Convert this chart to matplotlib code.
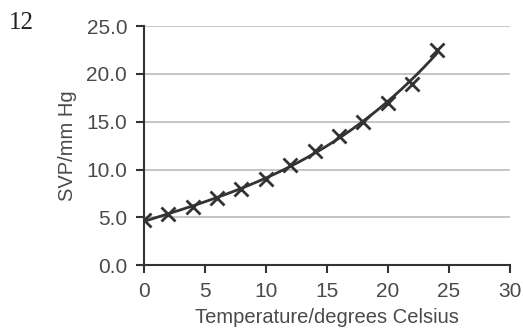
import numpy as np
import matplotlib
matplotlib.use("Agg")
import matplotlib.pyplot as plt

temps = [0, 2, 4, 6, 8, 10, 12, 14, 16, 18, 20, 22, 24]
svp = [4.7, 5.3, 6.1, 7.0, 8.0, 9.0, 10.5, 11.9, 13.5, 15.0, 17.0, 19.0, 22.5]
xticks = [0, 5, 10, 15, 20, 25, 30]
yticks = [0, 5, 10, 15, 20, 25]

plt.rcParams['font.family'] = ['Liberation Sans', 'DejaVu Sans']
ink = '#333333'
txt = '#4a4a4a'

fig = plt.figure(figsize=(5.23, 3.31), dpi=100)
ax = fig.add_axes([0.275, 0.199, 0.700, 0.722])

# smooth trend line through the points
coef = np.polyfit(temps, svp, 3)
xs = np.linspace(temps[0], temps[-1], 200)
ax.plot(xs, np.polyval(coef, xs), color=ink, lw=2, zorder=3)
ax.plot(temps, svp, ls='none', marker='x', ms=10.5, mew=2, color=ink, zorder=4)

ax.set_xlim(0, 30)
ax.set_ylim(0, 25)
ax.set_xticks(xticks)
ax.set_yticks(yticks)
ax.set_yticklabels([f"{v:.1f}" for v in yticks])
ax.yaxis.grid(True, color='#bbbbbb', lw=1.2)
ax.set_axisbelow(True)
for s in ['top', 'right']:
    ax.spines[s].set_visible(False)
for s in ['left', 'bottom']:
    ax.spines[s].set_color(ink)
    ax.spines[s].set_linewidth(1.5)
ax.tick_params(colors=ink, labelcolor=txt, labelsize=15, width=1.5, length=6, pad=6)
ax.set_xlabel('Temperature/degrees Celsius', fontsize=14.5, color=txt, labelpad=5)
ax.set_ylabel('SVP/mm Hg', fontsize=14.5, color=txt, labelpad=7)

fig.text(0.041, 0.93, '12', fontsize=18, family='Liberation Serif', color='#222222',
         va='center', ha='center')

fig.savefig('out.png', dpi=100)
